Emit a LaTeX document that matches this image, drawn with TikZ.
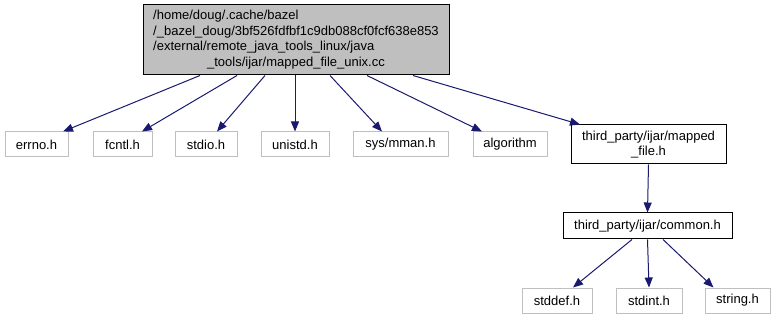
\documentclass[tikz,border=0pt]{standalone}
\usepackage{fontspec}
\setmainfont{Liberation Sans}
\usetikzlibrary{arrows.meta}
\definecolor{edgeblue}{HTML}{191970}
\definecolor{lightframe}{HTML}{BFBFBF}
\definecolor{rootfill}{HTML}{BFBFBF}
\tikzset{
  box/.style={draw, line width=1pt, inner sep=0pt, minimum height=25pt,
    font=\fontsize{13pt}{15.5pt}\selectfont, fill=white},
  sysbox/.style={box, draw=lightframe},
  localbox/.style={box, draw=black},
  rootbox/.style={box, draw=black, fill=rootfill},
  edge/.style={draw=edgeblue, line width=1pt,
    -{Triangle[length=10pt,width=8pt,fill=edgeblue]}},
}
\begin{document}
\begin{tikzpicture}[x=1pt,y=-1pt]
\useasboundingbox (0,0) rectangle (776,320);

% source file
\node[rootbox, minimum width=306pt, minimum height=70pt] (root) at (296,40)
  {\begin{tabular}{@{}l@{}}
   /home/doug/.cache/bazel\\
   /\_bazel\_doug/3bf526fdfbf1c9db088cf0fcf638e853\\
   /external/remote\_java\_tools\_linux/java\\
   \multicolumn{1}{@{}c@{}}{\_tools/ijar/mapped\_file\_unix.cc}
   \end{tabular}};

% directly included headers
\node[sysbox, minimum width=63pt] (errno) at (36.5,144.5) {errno.h};
\node[sysbox, minimum width=59pt] (fcntl) at (122.5,144.5) {fcntl.h};
\node[sysbox, minimum width=62pt] (stdio) at (206,144.5) {stdio.h};
\node[sysbox, minimum width=68pt] (unistd) at (295,144.5) {unistd.h};
\node[sysbox, minimum width=95pt] (mman) at (400.5,144.5) {sys/mman.h};
\node[sysbox, minimum width=74pt] (algorithm) at (510,144.5) {algorithm};
\node[localbox, minimum width=155pt, minimum height=39pt, align=center] (mapped) at (648.5,144.5)
  {third\_party/ijar/mapped\\\_file.h};

% second level
\node[localbox, minimum width=169pt, minimum height=26pt] (common) at (647.5,226) {third\_party/ijar/common.h};
\node[sysbox, minimum width=70pt] (stddef) at (557,300.5) {stddef.h};
\node[sysbox, minimum width=66pt] (stdint) at (649,300.5) {stdint.h};
\node[sysbox, minimum width=65pt] (string) at (737.5,300.5) {string.h};

% include edges
\draw[edge] ([xshift=-96pt]root.south) -- ([xshift=26.5pt]errno.north);
\draw[edge] ([xshift=-59pt]root.south) -- ([xshift=19.5pt]fcntl.north);
\draw[edge] ([xshift=-31pt]root.south) -- ([xshift=11pt]stdio.north);
\draw[edge] ([xshift=-1pt]root.south) -- ([xshift=0pt]unistd.north);
\draw[edge] ([xshift=34pt]root.south) -- ([xshift=-18.5pt]mman.north);
\draw[edge] ([xshift=71pt]root.south) -- ([xshift=-28pt]algorithm.north);
\draw[edge] ([xshift=117pt]root.south) -- ([xshift=-68.5pt]mapped.north);
\draw[edge] (mapped.south) -- (common.north);
\draw[edge] ([xshift=-15.5pt]common.south) -- ([xshift=16pt]stddef.north);
\draw[edge] (common.south) -- (stdint.north);
\draw[edge] ([xshift=15.5pt]common.south) -- ([xshift=-24pt]string.north);
\end{tikzpicture}
\end{document}
